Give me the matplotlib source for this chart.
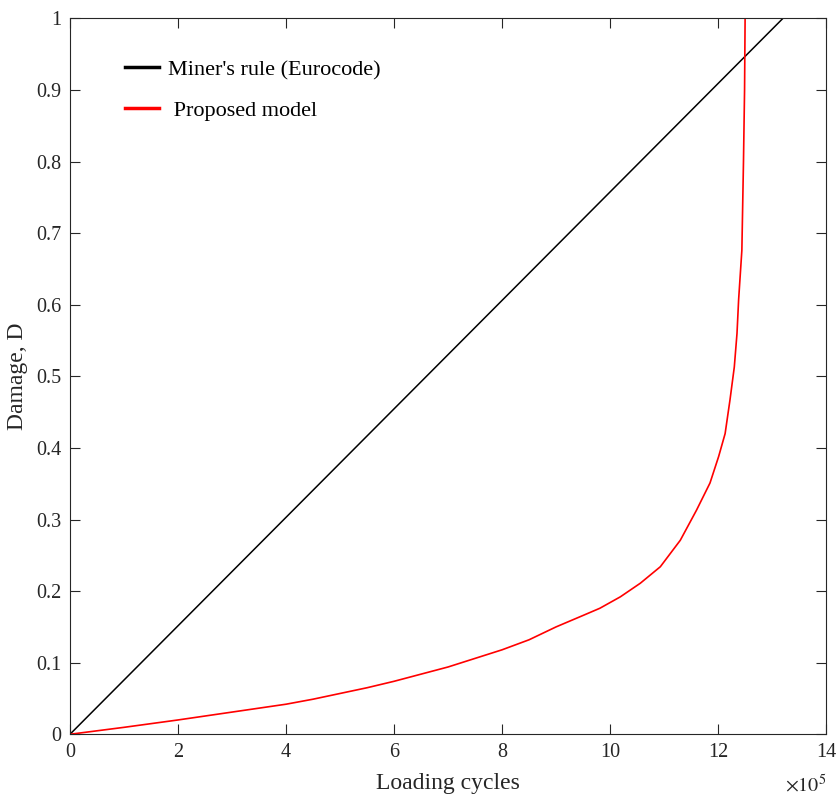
import numpy as np
import matplotlib
matplotlib.use('Agg')
import matplotlib.pyplot as plt
from matplotlib.ticker import FuncFormatter

plt.rcParams['font.family'] = ['Liberation Serif', 'DejaVu Serif']
plt.rcParams['mathtext.fontset'] = 'stix'

# (data, loading cycles in units of 1e5) --------------------------------------
miner_cycles = [0.0, 13.2]
miner_damage = [0.0, 1.0]

model_cycles = [0, 1, 2, 3, 4, 4.5, 5, 5.5, 6, 6.5, 7, 7.5, 8, 8.5, 9, 9.5,
                9.81, 10.19, 10.56, 10.93, 11.30, 11.60, 11.85, 12.01, 12.13,
                12.22, 12.30, 12.35, 12.38, 12.42, 12.44, 12.47, 12.49, 12.5]
model_damage = [0, 0.0097, 0.020, 0.031, 0.042, 0.049, 0.057, 0.065, 0.074,
                0.084, 0.094, 0.106, 0.118, 0.132, 0.150, 0.166, 0.176, 0.192,
                0.211, 0.234, 0.271, 0.313, 0.351, 0.388, 0.420, 0.467, 0.513,
                0.560, 0.607, 0.653, 0.676, 0.80, 0.90, 1.0]

labels = ["Miner's rule (Eurocode)", " Proposed model"]
xticks = np.arange(0, 15, 2)
yticks = np.arange(0, 1.01, 0.1)

# (figure) --------------------------------------------------------------------
fig = plt.figure(figsize=(8.37, 7.99), dpi=100)
ax = fig.add_axes([0.0836, 0.081, 0.9034, 0.896])

ax.plot(miner_cycles, miner_damage, color='black', lw=1.1, label=labels[0])
ax.plot(model_cycles, model_damage, color='#ff0000', lw=1.2, label=labels[1])

ax.set_xlim(0, 14)
ax.set_ylim(0, 1)
ax.set_xticks(xticks)
ax.set_yticks(yticks)
ax.yaxis.set_major_formatter(FuncFormatter(lambda v, p: '%g' % round(v, 2)))

col = '#262626'
ax.tick_params(direction='in', length=7, width=0.8, top=True, right=True,
               labelsize=14.5, colors=col, pad=6)
for s in ax.spines.values():
    s.set_color(col)
    s.set_linewidth(0.8)

# exponent of the x axis, as MATLAB places it
ax.text(1.0, -0.057, r'$\times10^{5}$', transform=ax.transAxes, ha='right',
        va='top', fontsize=14.5, color=col)

ax.set_xlabel('Loading cycles', fontsize=17, color=col, labelpad=8)
ax.set_ylabel('Damage, D', fontsize=17, color=col, labelpad=6)

leg = ax.legend(loc='upper left', bbox_to_anchor=(0.058, 0.958), frameon=False,
                fontsize=16, handlelength=1.55, handletextpad=0.4,
                labelspacing=0.92, borderpad=0.0)
for h in leg.get_lines():
    h.set_linewidth(2.5)

fig.savefig('out.png', dpi=100)
